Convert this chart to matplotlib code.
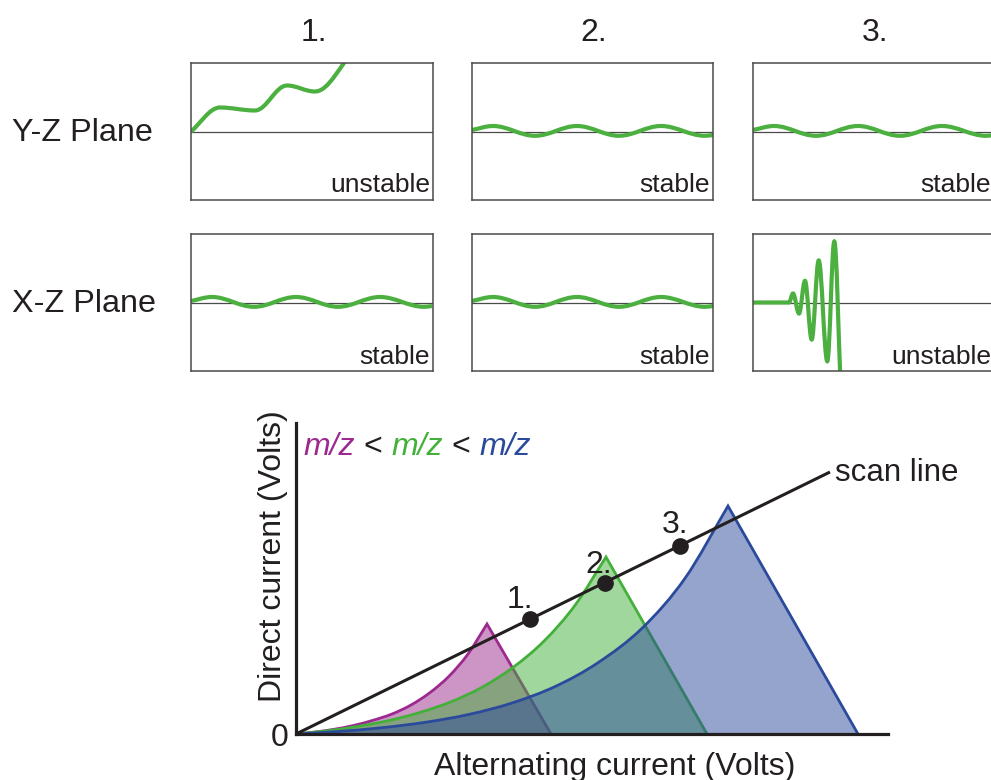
import matplotlib
matplotlib.use("Agg")
import matplotlib.pyplot as plt
from matplotlib.path import Path
from matplotlib.patches import PathPatch

plt.rcParams['font.family'] = ['Liberation Sans', 'DejaVu Sans']

W, H = 991, 780
INK = '#231f20'
MAG = '#9c2a8e'
GRN = '#43b03a'
BLU = '#2b4a9b'
WAVE_C = '#4cb040'

# ---------------- data ----------------
COL_TITLES = ['1.', '2.', '3.']
ROW_TITLES = ['Y-Z Plane', 'X-Z Plane']
STATUS = [['unstable', 'stable', 'stable'],
          ['stable', 'stable', 'unstable']]

# waveform extrema (panel px offsets: x from left edge, y up from midline)
STABLE_X = [0, 21, 63, 105, 147, 189, 233, 241]
STABLE_Y = [1.5, 5.5, -4.3, 5.5, -4.3, 5.5, -4.3, -3.5]
YZ1_X = [0, 29, 64, 96, 124, 162]
YZ1_Y = [0, 24, 21, 46, 40, 80]
XZ3_X = [0, 36, 40, 46, 52, 58.7, 65.7, 74.3, 81.3, 87.5]
XZ3_Y = [0, 0, 9, -11, 21.6, -37, 42, -58.7, 61, -80]

# stability regions (AC, DC)
MAG_LEFT_X = [0, .19, .38, .57, .76, .96, 1.15, 1.34, 1.53, 1.72, 1.91]
MAG_LEFT_Y = [0, .02, .047, .084, .134, .20, .29, .414, .578, .80, 1.10]
MAG_BASE = 2.55
GRN_LEFT_X = [0, .31, .62, .93, 1.24, 1.55, 1.86, 2.17, 2.48, 2.79, 3.10]
GRN_LEFT_Y = [0, .032, .076, .135, .216, .322, .467, .666, .929, 1.287, 1.77]
GRN_BASE = 4.11
BLU_LEFT_X = [0, .43, .86, 1.30, 1.73, 2.16, 2.59, 3.02, 3.46, 3.89, 4.32]
BLU_LEFT_Y = [0, .026, .063, .118, .196, .31, .474, .713, 1.057, 1.557, 2.28]
BLU_BASE = 5.62

SCAN_X = [0, 5.34]
SCAN_Y = [0, 2.62]
PT_X = [2.34, 3.09, 3.84]
PT_Y = [1.15, 1.51, 1.88]
PT_LABELS = ['1.', '2.', '3.']


def fx(x):
    return x / W


def fy(y):
    return 1 - y / H


def wave_path(xs, ys):
    verts = [(xs[0], ys[0])]
    codes = [Path.MOVETO]
    n = len(xs)
    for i in range(n - 1):
        x0, y0, x1, y1 = xs[i], ys[i], xs[i + 1], ys[i + 1]
        dx, dy = x1 - x0, y1 - y0
        c1 = (x0 + dx / 3, y0 + dy / 3) if i == 0 else (x0 + 0.3634 * dx, y0)
        c2 = (x1 - dx / 3, y1 - dy / 3) if i + 1 == n - 1 else (x1 - 0.3634 * dx, y1)
        verts += [c1, c2, (x1, y1)]
        codes += [Path.CURVE4] * 3
    return verts, codes


def smooth_verts(xs, ys):
    # Catmull-Rom through the points, expressed as cubic Bezier segments
    n = len(xs)
    pts = list(zip(xs, ys))
    first = (2 * pts[0][0] - pts[1][0], 2 * pts[0][1] - pts[1][1])
    last = (2 * pts[-1][0] - pts[-2][0], 2 * pts[-1][1] - pts[-2][1])
    ext = [first] + pts + [last]
    verts = [pts[0]]
    codes = [Path.MOVETO]
    for i in range(1, n):
        p0, p1, p2, p3 = ext[i - 1], ext[i], ext[i + 1], ext[i + 2]
        c1 = (p1[0] + (p2[0] - p0[0]) / 6, p1[1] + (p2[1] - p0[1]) / 6)
        c2 = (p2[0] - (p3[0] - p1[0]) / 6, p2[1] - (p3[1] - p1[1]) / 6)
        verts += [c1, c2, p2]
        codes += [Path.CURVE4] * 3
    return verts, codes


fig = plt.figure(figsize=(W / 100, H / 100), dpi=100)

# ---------------- small panels ----------------
col_left = [191, 472, 753]
col_w = [242, 241, 241]
row_top = [63, 234]
ph = 137
waves = [[(YZ1_X, YZ1_Y), (STABLE_X, STABLE_Y), (STABLE_X, STABLE_Y)],
         [(STABLE_X, STABLE_Y), (STABLE_X, STABLE_Y), (XZ3_X, XZ3_Y)]]

for r in range(2):
    for c in range(3):
        ax = fig.add_axes([fx(col_left[c]), fy(row_top[r] + ph), col_w[c] / W, ph / H])
        ax.set_xlim(0, col_w[c])
        ax.set_ylim(-ph / 2, ph / 2)
        ax.set_xticks([])
        ax.set_yticks([])
        for s in ax.spines.values():
            s.set_color('#4a4a4a')
            s.set_linewidth(1.1)
        ax.axhline(0, color='#4a4a4a', lw=0.9, zorder=1)
        xs, ys = waves[r][c]
        v, cd = wave_path(xs, ys)
        ax.add_patch(PathPatch(Path(v, cd), fill=False, edgecolor=WAVE_C,
                               lw=3.0, capstyle='butt', zorder=2))
        ax.text(col_w[c] - 3, -ph / 2 + 7.5, STATUS[r][c], ha='right', va='baseline',
                fontsize=19, color=INK, zorder=3)

for c, t in enumerate(COL_TITLES):
    fig.text(fx([314, 594, 875][c]), fy(41), t, ha='center', va='baseline',
             fontsize=23, color=INK)
for r, t in enumerate(ROW_TITLES):
    fig.text(fx(12), fy([141, 312][r]), t, ha='left', va='baseline',
             fontsize=23.3, color=INK)

# ---------------- main diagram ----------------
ox, oy = 296, 734
axm = fig.add_axes([fx(ox), fy(oy), 592 / W, 311 / H])
axm.set_xlim(0, 5.92)
axm.set_ylim(0, 3.11)
axm.set_xticks([])
axm.set_yticks([])
for side in ['top', 'right']:
    axm.spines[side].set_visible(False)
for side in ['left', 'bottom']:
    axm.spines[side].set_color(INK)
    axm.spines[side].set_linewidth(2.3)
    axm.spines[side].set_zorder(10)

regions = [(MAG_LEFT_X, MAG_LEFT_Y, MAG_BASE, MAG),
           (GRN_LEFT_X, GRN_LEFT_Y, GRN_BASE, GRN),
           (BLU_LEFT_X, BLU_LEFT_Y, BLU_BASE, BLU)]
z = 2
for lx, ly, base, col in regions:
    v, cd = smooth_verts(lx, ly)
    fv = v + [(base, 0), (0, 0)]
    fc = cd + [Path.LINETO, Path.CLOSEPOLY]
    axm.add_patch(PathPatch(Path(fv, fc), facecolor=col, edgecolor='none',
                            alpha=0.5, zorder=z))
    ev = v + [(base, 0)]
    ec = cd + [Path.LINETO]
    axm.add_patch(PathPatch(Path(ev, ec), fill=False, edgecolor=col,
                            lw=2.0, joinstyle='miter', zorder=z + 0.5))
    z += 1

axm.plot(SCAN_X, SCAN_Y, color=INK, lw=2.2, solid_capstyle='butt', zorder=8)
axm.plot(PT_X, PT_Y, 'o', color=INK, ms=11, zorder=9)

for t, (lx, by) in zip(PT_LABELS, [(507, 608), (585, 573), (662, 533)]):
    fig.text(fx(lx), fy(by), t, ha='left', va='baseline', fontsize=23, color=INK)

fig.text(fx(835), fy(481), 'scan line', ha='left', va='baseline', fontsize=22.5, color=INK)
fig.text(fx(288), fy(746), '0', ha='right', va='baseline', fontsize=23, color=INK)
fig.text(fx(615), fy(775), 'Alternating current (Volts)', ha='center', va='baseline',
         fontsize=23, color=INK)
fig.text(fx(273), fy(556), 'Direct current (Volts)', ha='center', va='center',
         rotation=90, fontsize=23, color=INK)

# m/z legend
pieces = [('m/z', MAG, 'italic'), ('<', INK, 'normal'), ('m/z', GRN, 'italic'),
          ('<', INK, 'normal'), ('m/z', BLU, 'italic')]
xpos = [303, 363, 391, 451, 479]
for (t, col, st), xp in zip(pieces, xpos):
    fig.text(fx(xp), fy(455), t, ha='left', va='baseline', fontsize=23,
             color=col, style=st)

fig.savefig('out.png', dpi=100)
